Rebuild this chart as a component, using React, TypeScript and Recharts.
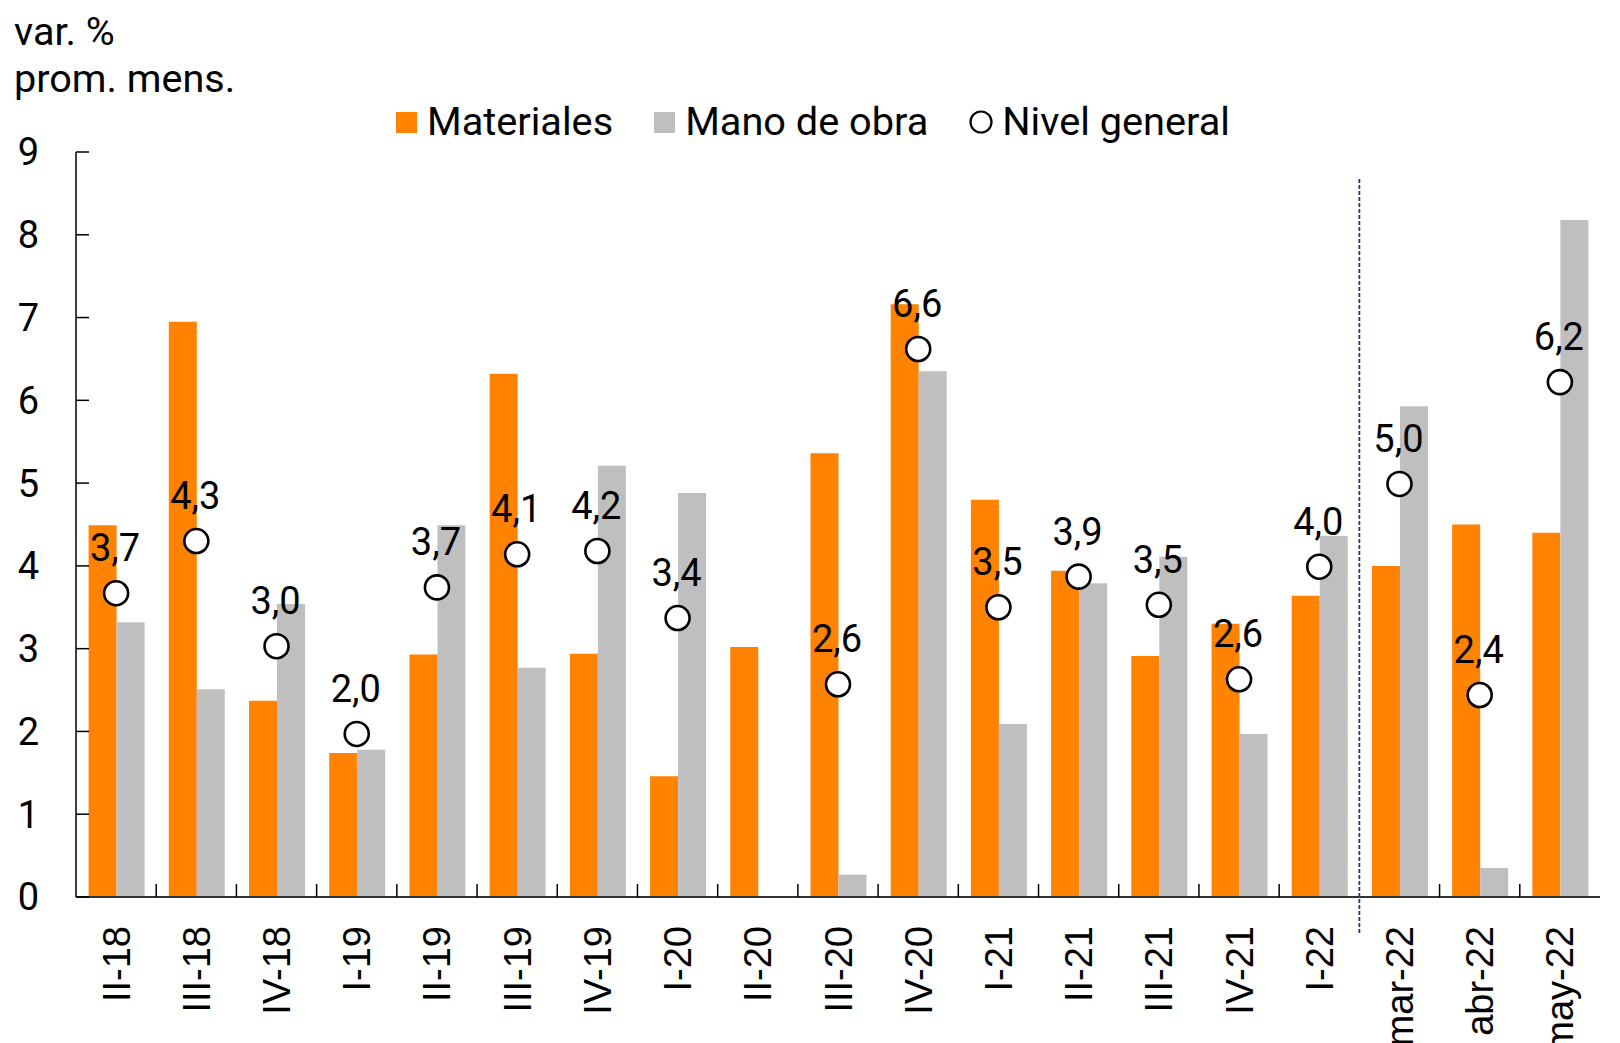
import React from 'react';
import { ComposedChart, Bar, Scatter, XAxis, YAxis, Legend } from 'recharts';

const categories = ['II-18', 'III-18', 'IV-18', 'I-19', 'II-19', 'III-19', 'IV-19', 'I-20', 'II-20', 'III-20', 'IV-20', 'I-21', 'II-21', 'III-21', 'IV-21', 'I-22', 'mar-22', 'abr-22', 'may-22'];
const materiales = [4.49, 6.95, 2.37, 1.74, 2.93, 6.32, 2.94, 1.46, 3.02, 5.36, 7.16, 4.8, 3.94, 2.91, 3.3, 3.64, 4.0, 4.5, 4.4];
const manoDeObra = [3.32, 2.51, 3.54, 1.78, 4.49, 2.77, 5.21, 4.88, null, 0.27, 6.35, 2.09, 3.79, 4.11, 1.97, 4.36, 5.93, 0.35, 8.18];
const nivelGeneral = [3.67, 4.3, 3.03, 1.97, 3.74, 4.14, 4.18, 3.37, null, 2.57, 6.62, 3.5, 3.87, 3.53, 2.63, 3.99, 4.99, 2.44, 6.22];
const yTicks = [0, 1, 2, 3, 4, 5, 6, 7, 8, 9];
const seriesNames = { materiales: 'Materiales', mano: 'Mano de obra', nivel: 'Nivel general' };
const titleLines = ['var. %', 'prom. mens.'];
const splitAfter = 'I-22';

const data = categories.map((c, i) => ({
  cat: c,
  materiales: materiales[i],
  mano: manoDeObra[i],
  nivel: nivelGeneral[i],
}));

const W = 1620;
const H = 1043;
const MARGIN = { top: 152, right: 20, left: 0, bottom: 0 };
const YAXIS_W = 76;
const XAXIS_H = 146;
const PLOT_W = W - MARGIN.left - MARGIN.right - YAXIS_W;
const PLOT_H = H - MARGIN.top - MARGIN.bottom - XAXIS_H;
const BAND = PLOT_W / categories.length;
const ORANGE = '#FF8200';
const GRAY = '#BFBFBF';
const FONT = 'Roboto, "Noto Sans", sans-serif';
const FS = 38;
const LEGEND_FS = 39.7;
const TITLE_FS = 39.6;

const fmt = (v: number) => v.toFixed(1).replace('.', ',');

const YTick = (props: any) => {
  const { x, y, payload } = props;
  return (
    <g>
      <line x1={x} x2={x + 13} y1={y} y2={y} stroke="#000" strokeWidth={1.5} />
      <text x={x - 37} y={y} dy={FS * 0.355} textAnchor="end" fontFamily={FONT} fontSize={FS} fill="#000">
        {payload.value}
      </text>
    </g>
  );
};

const XTick = (props: any) => {
  const { x, y, payload, index } = props;
  const half = BAND / 2;
  const isSplit = payload.value === splitAfter;
  const isLast = index === categories.length - 1;
  return (
    <g>
      {!isLast && !isSplit && (
        <line x1={x + half} x2={x + half} y1={y} y2={y - 13} stroke="#000" strokeWidth={1.5} />
      )}
      {isSplit && (
        <line
          x1={x + half}
          x2={x + half}
          y1={y - (PLOT_H - 27)}
          y2={y + 38}
          stroke="#1F3A75"
          strokeWidth={1.8}
          strokeDasharray="4 2"
        />
      )}
      <text
        transform={`translate(${x},${y + 29}) rotate(-90)`}
        dy={FS * 0.355}
        textAnchor="end"
        fontFamily='"Liberation Sans", Arial, sans-serif'
        fontSize={FS}
        fill="#000"
      >
        {payload.value}
      </text>
    </g>
  );
};

const NivelShape = (props: any) => {
  const { cx, cy, payload } = props;
  if (payload == null || payload.nivel == null || cx == null || cy == null) return <g />;
  return (
    <g>
      <circle cx={cx} cy={cy} r={12} fill="#fff" stroke="#000" strokeWidth={2.6} />
      <text x={cx - 1} y={cy - 32} textAnchor="middle" fontFamily={FONT} fontSize={FS} fill="#000">
        {fmt(payload.nivel)}
      </text>
    </g>
  );
};

const LegendContent = () => {
  const items = [
    { key: 'materiales', label: seriesNames.materiales, kind: 'sq', color: ORANGE },
    { key: 'mano', label: seriesNames.mano, kind: 'sq', color: GRAY },
    { key: 'nivel', label: seriesNames.nivel, kind: 'circle', color: '#000' },
  ];
  return (
    <div style={{ display: 'flex', alignItems: 'center', height: 44, fontFamily: FONT, fontSize: LEGEND_FS, color: '#000', whiteSpace: 'nowrap' }}>
      {items.map((it, i) => (
        <div key={it.key} style={{ display: 'flex', alignItems: 'center', marginRight: i < items.length - 1 ? 41 : 0 }}>
          {it.kind === 'sq' ? (
            <div style={{ width: 21, height: 21, background: it.color, marginRight: 10 }} />
          ) : (
            <svg width={24} height={24} style={{ marginRight: 9 }}>
              <circle cx={12} cy={12} r={10.5} fill="#fff" stroke="#000" strokeWidth={2.2} />
            </svg>
          )}
          <span style={{ lineHeight: '44px' }}>{it.label}</span>
        </div>
      ))}
    </div>
  );
};

export default function App() {
  return (
    <div style={{ position: 'absolute', left: 0, top: 0, width: W, height: H, background: '#fff', overflow: 'hidden' }}>
      <div style={{ position: 'absolute', left: 14, top: 9, fontFamily: FONT, fontSize: TITLE_FS, lineHeight: '46.7px', color: '#000', zIndex: 2 }}>
        {titleLines.map((t) => (
          <div key={t}>{t}</div>
        ))}
      </div>
      <ComposedChart width={W} height={H} data={data} margin={MARGIN} barCategoryGap="15.7%" barGap={0}>
        <XAxis
          dataKey="cat"
          type="category"
          height={XAXIS_H}
          interval={0}
          tickSize={0}
          tickMargin={0}
          tickLine={false}
          axisLine={{ stroke: '#333', strokeWidth: 2 }}
          tick={<XTick />}
        />
        <YAxis
          type="number"
          domain={[0, 9]}
          ticks={yTicks}
          width={YAXIS_W}
          interval={0}
          tickSize={0}
          tickMargin={0}
          tickLine={false}
          axisLine={{ stroke: '#000', strokeWidth: 1.5 }}
          tick={<YTick />}
        />
        <Legend
          layout="horizontal"
          verticalAlign="middle"
          align="center"
          content={<LegendContent />}
          wrapperStyle={{ position: 'absolute', left: 396, top: 100, width: 'auto', height: 44 }}
        />
        <Bar dataKey="materiales" name={seriesNames.materiales} fill={ORANGE} isAnimationActive={false} />
        <Bar dataKey="mano" name={seriesNames.mano} fill={GRAY} isAnimationActive={false} />
        <Scatter dataKey="nivel" name={seriesNames.nivel} shape={<NivelShape />} isAnimationActive={false} />
      </ComposedChart>
    </div>
  );
}
